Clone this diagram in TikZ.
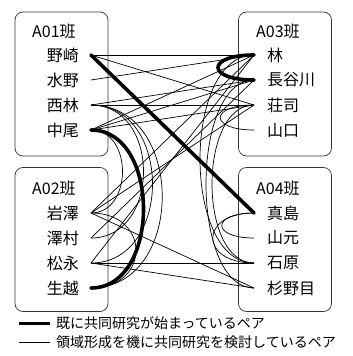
\documentclass[tikz,border=0pt]{standalone}
\usepackage{fontspec}
\setmainfont{Noto Sans CJK JP}
\usetikzlibrary{positioning}
\tikzset{
    groupbox/.style={ % Frame of one group
        draw=black!80,
        line width=0.7pt,
        rounded corners=8pt,
        minimum width=93pt,
        minimum height=144pt,
        inner sep=0pt
    },
    member/.style={inner sep=0pt, font=\fontsize{16}{16}\selectfont},
    legendtext/.style={inner sep=0pt, anchor=west, font=\fontsize{14}{14}\selectfont},
    every edge/.style={ % Thin pairs
        draw,
        line width=0.7pt
    },
    started/.style={line width=3.6pt, line cap=round}, % Pairs already working together
    lbend/.style={out=0, in=0, distance=#1},     % Arc on the left side
    rbend/.style={out=180, in=180, distance=#1}  % Arc on the right side
}

\begin{document}
\begin{tikzpicture}[x=1pt, y=-1pt]
    \useasboundingbox (0,0) rectangle (353,356);

    % groups
    \node[groupbox] (g1) at (61.5,84) {};
    \node[groupbox] (g2) at (61.5,239.5) {};
    \node[groupbox] (g3) at (285,84) {};
    \node[groupbox] (g4) at (285,239.5) {};
    \node[member, anchor=west] (g1t) at (32,31) {A01班};
    \node[member, anchor=west] (g2t) at (32,188) {A02班};
    \node[member, anchor=west] (g3t) at (256,31) {A03班};
    \node[member, anchor=west] (g4t) at (256,188) {A04班};

    % members
    \foreach \n/\t/\y in {nozaki/野崎/55, mizuno/水野/80, nishibayashi/西林/105, nakao/中尾/130,
                          iwasawa/岩澤/213, sawamura/澤村/238, matsunaga/松永/263, ogose/生越/288}
    {
        \node[member, anchor=east] (\n-t) at (79,\y) {\t};
        \coordinate (\n) at (91,\y);
    }
    \foreach \n/\t/\y in {hayashi/林/55, hasegawa/長谷川/80, shoji/荘司/105, yamaguchi/山口/130,
                          majima/真島/213, yamamoto/山元/238, ishihara/石原/263, suginome/杉野目/288}
    {
        \node[member, anchor=west] (\n-t) at (267,\y) {\t};
        \coordinate (\n) at (254,\y);
    }

    % pairs under consideration
    \draw
    (nozaki) edge (hayashi)
    (nozaki) edge (shoji)
    (mizuno) edge (hayashi)
    (nishibayashi) edge (shoji)
    (nishibayashi) edge (hasegawa)
    (nakao) edge (hayashi)
    (nakao) edge (hasegawa)
    (nakao) edge (shoji)
    (iwasawa) edge (hayashi)
    (iwasawa) edge (shoji)
    (iwasawa) edge (suginome)
    (sawamura) edge (hasegawa)
    (matsunaga) edge (hayashi)
    (matsunaga) edge (ishihara)
    (matsunaga) edge (suginome)
    (nakao) edge[lbend=42pt] (iwasawa)
    (nishibayashi) edge[lbend=70pt] (sawamura)
    (nishibayashi) edge[lbend=82pt] (matsunaga)
    (nishibayashi) edge[lbend=95pt] (ogose)
    (iwasawa) edge[lbend=60pt] (ogose)
    (shoji) edge[rbend=45pt] (yamaguchi)
    (hayashi) edge[rbend=72pt] (ishihara)
    (hasegawa) edge[rbend=64pt] (suginome)
    (shoji) edge[rbend=56pt] (ishihara)
    (majima) edge[rbend=55pt] (ishihara)
    (majima) edge[rbend=43pt] (yamamoto)
    ;

    % pairs already started
    \draw[started] (nozaki) -- (majima);
    \draw[started] (hayashi) to[rbend=48pt] (hasegawa);
    \draw[started] (nakao) to[lbend=70pt] (ogose);

    % legend
    \coordinate (k1a) at (19,323);
    \coordinate (k1b) at (50,323);
    \coordinate (k2a) at (19,342);
    \coordinate (k2b) at (50,342);
    \draw[line width=3pt] (k1a) -- (k1b);
    \draw[line width=0.7pt] (k2a) -- (k2b);
    \node[legendtext] (k1t) at (56,323) {既に共同研究が始まっているペア};
    \node[legendtext] (k2t) at (56,342) {領域形成を機に共同研究を検討しているペア};
\end{tikzpicture}
\end{document}
